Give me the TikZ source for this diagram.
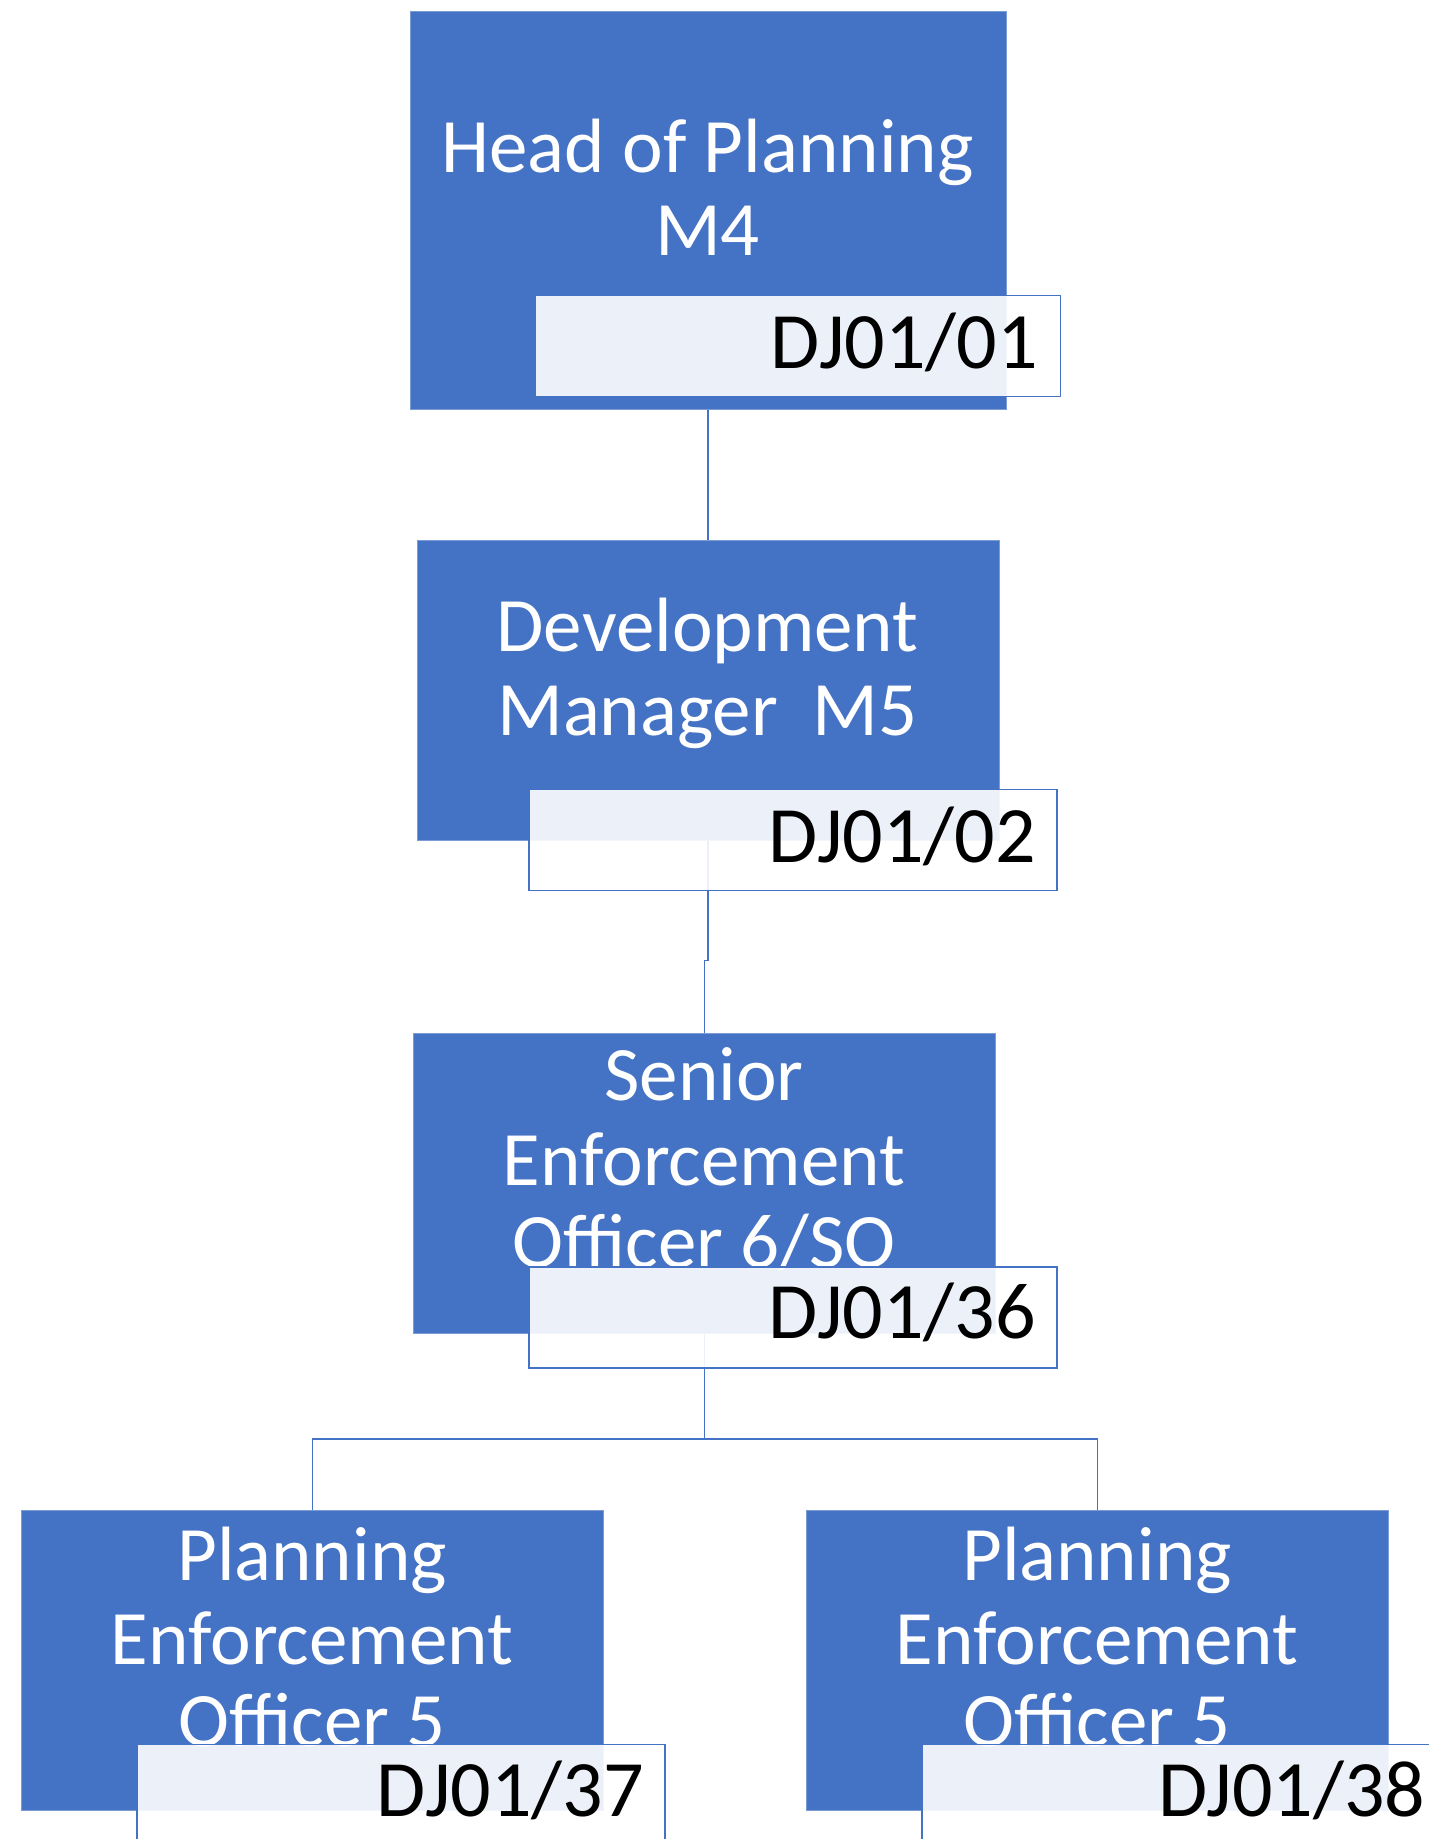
\documentclass[tikz,border=0pt]{standalone}
\usepackage{fontspec}
\setmainfont{Carlito}
\usetikzlibrary{backgrounds}
\definecolor{orgblue}{HTML}{4472C4}
\definecolor{connblue}{HTML}{4472C4}
\begin{document}
\begin{tikzpicture}[x=1pt,y=-1pt,
  box/.style={fill=orgblue, draw=orgblue!70!white, line width=0.8pt, anchor=north west, inner sep=0pt, minimum width=582pt, minimum height=300pt},
  boxtext/.style={anchor=base, text=white, inner sep=0pt, font=\fontsize{77}{84}\selectfont},
  lab/.style={fill=white, fill opacity=0.9, draw=orgblue, line width=1.6pt, anchor=north west, inner sep=0pt, minimum width=528pt, minimum height=101pt},
  labtext/.style={anchor=base east, text=black, inner sep=0pt, font=\fontsize{80}{90}\selectfont},
  conn/.style={draw=connblue, line width=1.8pt}]
\useasboundingbox (0,0) rectangle (1429,1839);

% boxes
\node[box, minimum width=596pt, minimum height=398pt] (b1) at (409.5,10.6) {};
\node[box] (b2) at (416.5,539.7) {};
\node[box] (b3) at (413,1032.5) {};
\node[box] (b4) at (21,1510) {};
\node[box] (b5) at (806,1510) {};

% box texts
\node[boxtext] (t1a) at (707.5,172.5) {Head of Planning};
\node[boxtext] (t1b) at (707.5,255.8) {M4};
\node[boxtext] (t2a) at (707.5,651) {Development};
\node[boxtext] (t2b) at (707.5,735.7) {Manager\ \ M5};
\node[boxtext] (t3a) at (704,1100.6) {Senior};
\node[boxtext] (t3b) at (704,1185) {Enforcement};
\node[boxtext] (t3c) at (704,1267) {Officer 6/SO};
\node[boxtext] (t4a) at (312,1580) {Planning};
\node[boxtext] (t4b) at (312,1664) {Enforcement};
\node[boxtext] (t4c) at (312,1746) {Officer 5};
\node[boxtext] (t5a) at (1097,1580) {Planning};
\node[boxtext] (t5b) at (1097,1664) {Enforcement};
\node[boxtext] (t5c) at (1097,1746) {Officer 5};

% labels
\node[lab, minimum width=525.6pt] (l1) at (533.9,294.5) {};
\node[lab] (l2) at (528,788.5) {};
\node[lab] (l3) at (528,1266) {};
\node[lab] (l4) at (136,1743.5) {};
\node[lab] (l5) at (921,1743.5) {};
\node[labtext] (l1t) at (1038,368.4) {DJ01/01};
\node[labtext] (l2t) at (1036,862) {DJ01/02};
\node[labtext] (l3t) at (1036,1338.7) {DJ01/36};
\node[labtext] (l4t) at (644,1816) {DJ01/37};
\node[labtext] (l5t) at (1425.6,1816) {DJ01/38};

% connectors
\begin{scope}[on background layer]
\fill[white] (0,0) rectangle (1429,1839);
\draw[conn] (b1.south) -- (b2.north);
\draw[conn] (b2.south) -- ++(0,120) -| (b3.north);
\draw[conn] (b3.south) -- ++(0,105.3) -| (b4.north);
\draw[conn] (b3.south) -- ++(0,105.3) -| (b5.north);
\end{scope}
\end{tikzpicture}
\end{document}
